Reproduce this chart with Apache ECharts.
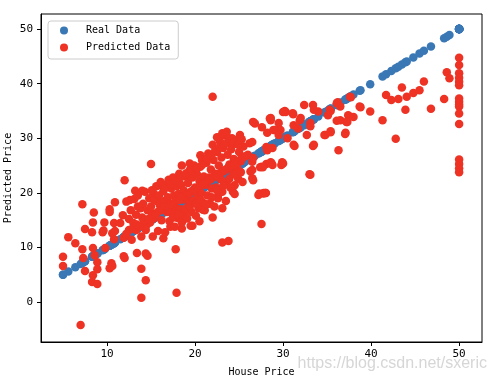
<!DOCTYPE html>
<html>
<head>
<meta charset="utf-8">
<script src="https://cdn.jsdelivr.net/npm/echarts@6/dist/echarts.min.js"></script>
<style>html,body{margin:0;padding:0;background:#fff;}#c{width:496px;height:384px;}</style>
</head>
<body>
<div id="c"></div>
<script>
// Real house prices (x) and model predictions (y)
const realPrice = [
  5.0,5.0,5.6,6.4,7.0,7.2,7.2,7.3,7.5,7.5,8.3,8.3,8.4,8.4,8.4,8.5,8.6,8.9,8.9,8.9,
  9.5,9.6,9.7,9.8,10.3,10.3,10.3,10.5,10.6,10.6,10.8,10.9,10.9,10.8,11.5,11.8,12.0,11.9,12.0,11.9,
  12.5,12.6,12.2,12.8,13.2,13.4,13.3,13.5,13.9,13.9,14.0,13.9,14.4,14.4,14.6,14.5,15.0,15.2,15.2,15.3,
  15.8,16.4,16.2,17.8,17.9,17.2,18.5,18.6,19.7,18.5,19.4,20.6,20.7,20.9,22.0,22.0,23.1,23.8,23.1,22.6,
  24.3,24.5,24.9,25.1,24.8,
  12.5,12.7,13.0,13.1,13.3,13.5,13.6,13.8,14.0,14.1,14.3,14.4,14.6,14.8,14.9,
  15.0,15.1,15.3,15.4,15.6,15.7,15.8,15.9,16.0,16.1,16.2,16.4,16.5,16.6,16.7,16.8,16.9,
  17.0,17.1,17.2,17.3,17.4,17.5,17.6,17.7,17.8,17.9,18.0,18.1,18.2,18.3,18.4,18.5,18.6,18.7,18.8,18.9,19.0,
  19.1,19.2,19.3,19.4,19.5,19.6,19.7,19.8,19.9,20.0,20.1,20.2,20.3,20.4,20.5,20.6,20.7,20.8,20.9,21.0,
  21.1,21.2,21.3,21.4,21.5,21.6,21.7,21.8,21.9,22.0,22.1,22.2,22.3,22.4,22.5,22.6,22.7,22.8,22.9,
  23.0,23.1,23.2,23.3,23.4,23.5,23.6,23.7,23.8,23.9,24.0,24.1,24.2,24.3,24.4,24.5,24.6,24.8,25.0,25.2,25.4,25.5,
  12.2,12.9,13.4,13.7,14.2,14.7,15.1,15.5,15.9,16.3,16.6,17.0,17.3,17.6,17.9,18.2,18.5,18.8,19.1,19.4,
  19.7,20.0,20.3,20.6,20.9,21.2,21.5,21.8,22.1,22.4,22.7,23.0,23.3,23.6,23.9,24.2,24.5,24.8,25.1,25.4,25.7,26.0,
  16.5,17.2,17.8,18.4,19.0,19.6,20.2,20.8,21.3,21.8,22.3,22.8,23.3,23.8,24.4,24.9,25.3,22.5,23.1,23.6,
  17.5,18.1,18.9,19.4,20.1,20.6,21.3,21.9,22.5,23.2,23.9,24.6,25.2,19.5,20.5,
  26.2,26.5,26.3,26.6,26.8,27.3,27.75,28.05,27.55,27.55,28.1,28.7,28.1,28.5,29.07,29.8,30.0,30.2,31.15,31.3,
  31.7,31.9,32.4,32.7,33.1,33.4,33.0,33.4,34.0,34.7,35.1,35.3,35.4,36.1,36.1,36.3,36.5,37.05,37.2,37.4,
  37.6,38.0,38.7,39.9,41.3,41.7,42.3,42.8,43.1,43.5,43.9,44.05,44.8,45.5,46.0,46.8,48.3,48.6,48.9,
  30.3,31.1,28.6,29.5,28.2,29.7,31.2,32.0,33.1,33.5,35.4,36.2,37.7,38.8,36.5,37.3,37.1,34.8,35.4,31.2,
  33.5,28.6,29.9,27.4,27.8,26.6,27.6,28.6,30.0,28.9,29.5,30.5,26.5,28.2,28.8,26.6,27.7,28.8,26.5,26.5,
  27.2,28.0,33.1,
  50,50,50,50,50,50,50,50,50,50,50,50,50,50,50,50
];
const predictedPrice = [
  8.3,6.6,11.9,10.8,-4.2,17.9,9.7,8.1,13.4,5.7,12.8,3.7,14.6,9.9,4.9,16.4,8.6,7.3,6.0,3.3,
  12.8,13.1,14.6,9.9,16.5,17.0,6.2,7.1,6.6,12.6,14.5,18.3,13.0,11.5,14.5,15.9,22.3,8.4,8.1,11.8,
  13.2,18.7,18.4,11.4,20.4,9.0,13.2,17.5,0.8,6.1,20.4,12.0,4.0,8.9,8.5,14.1,25.3,12.0,16.2,19.9,
  18.4,11.7,21.4,9.7,1.7,13.8,13.5,15.0,14.0,25.0,25.4,26.9,18.4,16.9,37.6,15.5,10.9,11.2,17.2,19.3,
  20.2,21.4,22.6,30.6,29.7,
  15.2,16.8,14.5,18.9,16.0,19.5,13.8,17.2,15.5,18.0,20.2,13.2,16.8,19.0,14.6,
  17.5,20.5,15.3,18.6,21.2,16.4,13.0,19.5,17.8,22.0,15.0,20.3,18.5,12.8,21.5,16.5,19.2,
  22.4,14.8,18.0,20.8,16.2,22.8,19.5,13.8,17.3,21.2,15.4,19.8,23.5,17.0,21.5,14.6,18.8,20.5,16.3,23.0,19.0,
  15.3,21.8,17.8,24.2,20.2,16.5,22.8,18.5,25.0,21.0,15.8,23.5,19.3,17.2,22.2,24.8,20.0,26.0,18.2,23.0,
  16.8,21.5,25.5,19.5,27.2,22.8,18.0,24.3,20.8,28.8,26.0,17.5,23.5,21.0,27.5,19.0,25.0,29.5,22.5,
  26.5,20.2,28.2,24.0,30.5,18.5,22.0,27.0,29.2,25.2,21.0,28.0,30.0,23.5,26.2,19.8,29.0,24.5,27.5,25.8,22.0,28.5,
  12.5,13.5,14.2,13.9,15.0,15.2,15.8,16.0,16.7,16.9,17.5,17.4,17.9,18.2,18.6,18.7,19.3,19.4,19.8,19.9,
  20.4,20.6,21.0,21.3,21.6,21.9,22.3,22.5,22.9,23.1,23.5,23.8,24.1,24.4,24.7,25.0,25.3,25.6,26.0,26.4,26.7,27.0,
  20.8,21.6,22.3,22.9,23.6,24.1,24.5,25.1,26.3,26.9,27.8,28.3,28.9,30.0,29.3,28.8,29.8,30.2,30.9,31.2,
  15.5,16.0,17.1,17.5,18.0,18.8,17.9,19.2,20.5,21.3,22.6,23.3,23.8,14.0,14.8,
  29.1,25.7,23.9,22.3,32.7,19.9,19.9,20.0,14.3,24.8,25.3,25.4,28.4,33.6,31.5,25.1,25.4,35.0,34.4,28.6,
  31.8,33.3,36.1,30.6,32.8,28.6,23.4,36.1,34.9,30.6,34.2,35.2,31.3,36.4,33.2,27.8,35.8,30.8,33.0,34.2,
  37.6,33.9,35.8,34.9,33.3,37.9,37.0,29.9,37.2,39.3,35.2,37.6,38.3,38.8,40.4,35.4,37.2,42.1,41.0,
  34.8,34.6,33.3,32.8,31.0,31.5,32.4,33.7,32.2,35.2,35.0,36.6,37.5,35.7,33.3,33.0,31.0,30.6,31.1,28.8,
  28.8,25.6,25.6,24.7,20.0,33.0,32.0,33.7,34.8,31.5,30.6,30.0,29.3,27.8,28.2,26.4,24.7,25.1,24.2,22.7,
  19.6,20.0,23.3,
  44.75,43.4,41.9,41.1,40.35,39.7,37.3,36.7,36.2,35.8,34.55,32.6,26.1,25.3,24.5,23.8
];
const xTicks = [10, 20, 30, 40, 50];
const yTicks = [0, 10, 20, 30, 40, 50];

const realData = realPrice.map(v => [v, v]);
const predData = realPrice.map((v, i) => [v, predictedPrice[i]]);

const mono = "'DejaVu Sans Mono', 'Liberation Mono', monospace";
const chart = echarts.init(document.getElementById('c'), null, {renderer: 'canvas'});
chart.setOption({
  animation: false,
  backgroundColor: '#fff',
  grid: {left: 41, right: 14, top: 14, bottom: 42, show: true, borderColor: '#000', borderWidth: 1,
         containLabel: false, outerBoundsMode: 'none'},
  legend: {
    orient: 'vertical', left: 48, top: 21,
    data: ['Real Data', 'Predicted Data'],
    icon: 'circle', itemWidth: 16, itemHeight: 8, itemGap: 0,
    padding: [1, 8, 3, 12],
    borderColor: '#cccccc', borderWidth: 1, borderRadius: 3, backgroundColor: '#fff',
    textStyle: {fontFamily: mono, fontSize: 10, color: '#000', lineHeight: 17, padding: [0, 0, 0, 9]}
  },
  xAxis: {
    type: 'value', min: 2.5, max: 52.6,
    name: 'House Price', nameLocation: 'middle', nameGap: 25, nameMoveOverlap: false,
    nameTextStyle: {fontFamily: mono, fontSize: 10, color: '#000'},
    splitLine: {show: false},
    axisLine: {show: true, onZero: false, lineStyle: {color: '#000', width: 1}},
    axisTick: {show: true, inside: false, length: 4, lineStyle: {color: '#000'}, customValues: xTicks},
    axisLabel: {fontFamily: mono, fontSize: 11, color: '#000', margin: 7, customValues: xTicks}
  },
  yAxis: {
    type: 'value', min: -7.3, max: 52.75,
    name: 'Predicted Price', nameLocation: 'middle', nameGap: 28, nameRotate: 90, nameMoveOverlap: false,
    nameTextStyle: {fontFamily: mono, fontSize: 10, color: '#000'},
    splitLine: {show: false},
    axisLine: {show: true, onZero: false, lineStyle: {color: '#000', width: 1}},
    axisTick: {show: true, inside: false, length: 4, lineStyle: {color: '#000'}, customValues: yTicks},
    axisLabel: {fontFamily: mono, fontSize: 11, color: '#000', margin: 8, customValues: yTicks}
  },
  series: [
    {name: 'Real Data', type: 'scatter', data: realData, symbolSize: 8.5,
     itemStyle: {color: '#3a78b5', opacity: 1}, emphasis: {disabled: true}},
    {name: 'Predicted Data', type: 'scatter', data: predData, symbolSize: 8.5,
     itemStyle: {color: '#ee3224', opacity: 1}, emphasis: {disabled: true}}
  ],
  graphic: [{
    type: 'text', right: 9, top: 356,
    style: {text: 'https://blog.csdn.net/sxeric', fontFamily: "'Liberation Sans', Arial, sans-serif", fontSize: 16, fill: 'rgba(200,200,200,0.75)'}
  }]
});
</script>
</body>
</html>
